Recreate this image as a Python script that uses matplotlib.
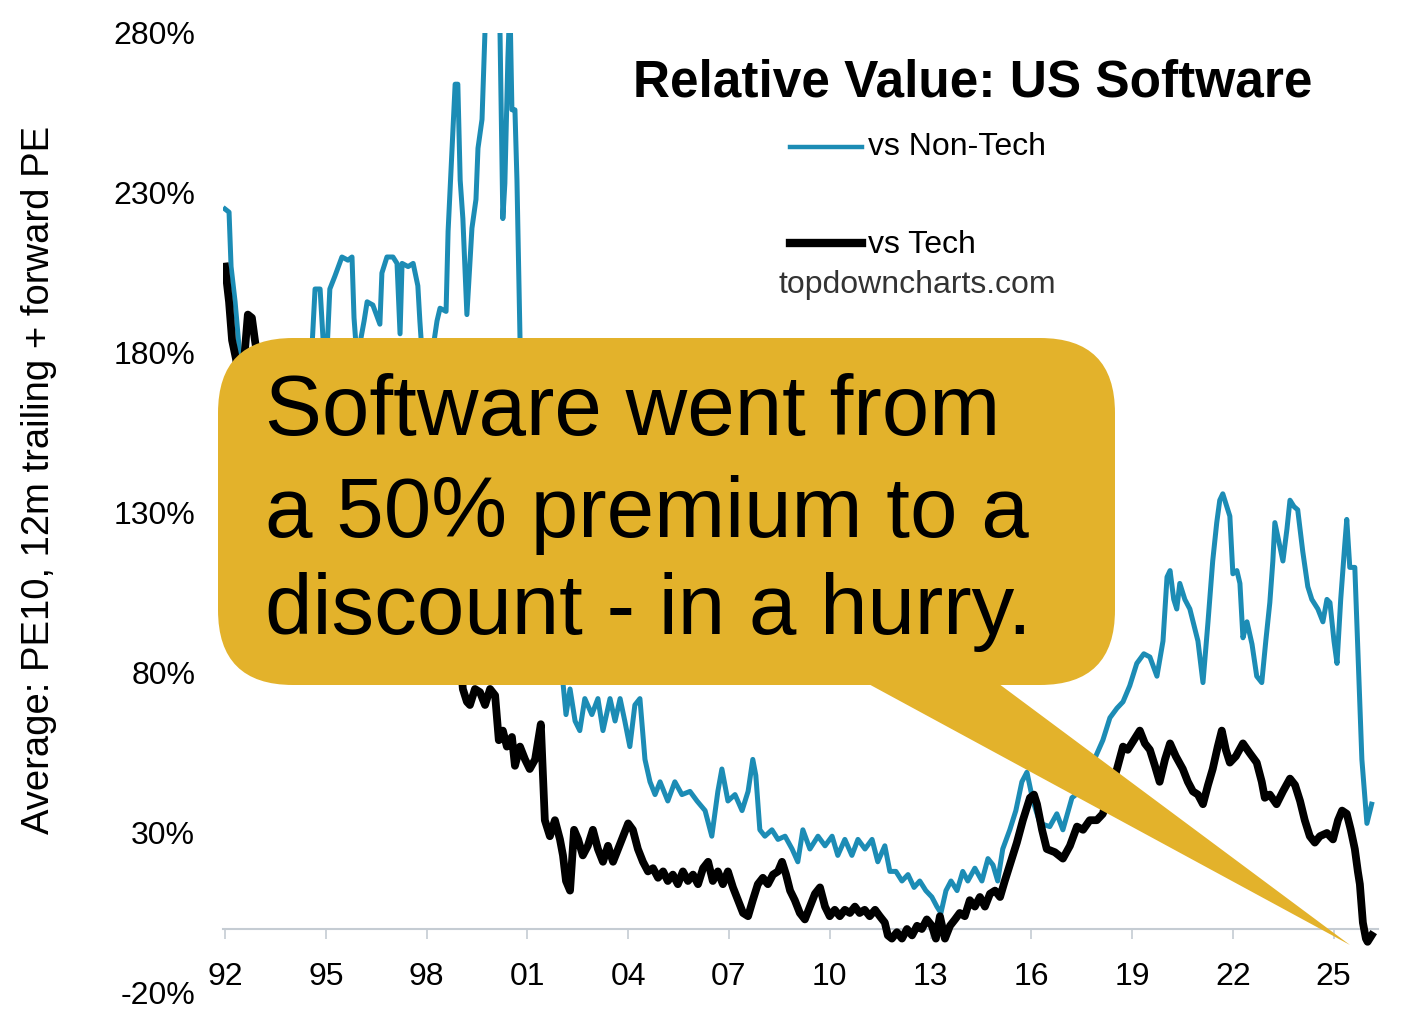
import matplotlib
matplotlib.use('Agg')
import matplotlib.pyplot as plt
from matplotlib.patches import FancyBboxPatch, Polygon
from matplotlib.lines import Line2D

plt.rcParams['font.family'] = ['Liberation Sans', 'DejaVu Sans']

# Relative value of US software, % premium (decimal years)
nontech_years = [
    1992.00, 1992.12, 1992.18, 1992.30, 1992.45, 1992.74, 1993.00, 1993.50, 1994.00, 1994.40,
    1994.59, 1994.68, 1994.83, 1994.92, 1995.00, 1995.12, 1995.27, 1995.48, 1995.66, 1995.78,
    1995.84, 1995.93, 1996.14, 1996.23, 1996.40, 1996.61, 1996.67, 1996.82, 1997.00, 1997.12,
    1997.21, 1997.27, 1997.45, 1997.60, 1997.74, 1997.80, 1997.89, 1998.10, 1998.31, 1998.40,
    1998.58, 1998.64, 1998.85, 1998.93, 1999.00, 1999.08, 1999.20, 1999.35, 1999.47, 1999.53,
    1999.65, 1999.74, 1999.83, 2000.04, 2000.18, 2000.27, 2000.33, 2000.42, 2000.48, 2000.54,
    2000.63, 2000.69, 2000.78, 2000.87, 2001.00, 2001.30, 2001.60, 2001.90, 2002.05, 2002.15,
    2002.27, 2002.42, 2002.56, 2002.71, 2002.92, 2003.10, 2003.25, 2003.46, 2003.61, 2003.76,
    2003.90, 2004.05, 2004.20, 2004.35, 2004.50, 2004.65, 2004.80, 2004.95, 2005.18, 2005.39,
    2005.60, 2005.84, 2006.05, 2006.29, 2006.49, 2006.67, 2006.79, 2006.97, 2007.18, 2007.39,
    2007.57, 2007.71, 2007.80, 2007.92, 2008.07, 2008.28, 2008.46, 2008.67, 2008.88, 2009.05,
    2009.20, 2009.41, 2009.65, 2009.86, 2010.07, 2010.24, 2010.45, 2010.66, 2010.84, 2011.05,
    2011.26, 2011.43, 2011.64, 2011.79, 2011.97, 2012.15, 2012.33, 2012.51, 2012.68, 2012.86,
    2013.04, 2013.19, 2013.31, 2013.46, 2013.61, 2013.79, 2013.96, 2014.11, 2014.32, 2014.53,
    2014.71, 2014.86, 2015.00, 2015.15, 2015.36, 2015.54, 2015.72, 2015.87, 2016.05, 2016.26,
    2016.55, 2016.76, 2016.94, 2017.21, 2017.45, 2017.68, 2017.92, 2018.13, 2018.34, 2018.55,
    2018.73, 2018.93, 2019.14, 2019.35, 2019.53, 2019.74, 2019.92, 2020.04, 2020.13, 2020.24,
    2020.33, 2020.42, 2020.57, 2020.72, 2020.84, 2020.96, 2021.11, 2021.26, 2021.40, 2021.52,
    2021.61, 2021.70, 2021.82, 2021.91, 2022.00, 2022.12, 2022.21, 2022.30, 2022.42, 2022.57,
    2022.71, 2022.86, 2022.98, 2023.10, 2023.19, 2023.25, 2023.37, 2023.49, 2023.61, 2023.70,
    2023.82, 2023.93, 2024.08, 2024.23, 2024.35, 2024.53, 2024.68, 2024.80, 2024.89, 2025.01,
    2025.10, 2025.21, 2025.33, 2025.39, 2025.48, 2025.63, 2025.72, 2025.84, 2025.99, 2026.13,
]
nontech_vals = [
    225, 224, 207, 196, 178, 172, 170, 175, 168, 178,
    182, 200, 200, 184, 172, 200, 204, 210, 209, 210,
    191, 178, 190, 196, 195, 189, 205, 210, 210, 208,
    186, 208, 207, 208, 201, 190, 176, 175, 190, 194,
    193, 218, 264, 264, 234, 222, 192, 219, 228, 244,
    253, 281, 292, 296, 284, 222, 233, 272, 290, 256,
    256, 234, 185, 159, 150, 130, 110, 92, 78, 67,
    75, 65, 62, 72, 67, 72, 62, 72, 65, 72,
    65, 57, 70, 72, 53, 46, 42, 46, 40, 46,
    42, 43, 40, 37, 29, 43, 50, 40, 42, 37,
    43, 53, 48, 31, 29, 31, 28, 29, 25, 21,
    31, 25, 29, 26, 29, 23, 28, 23, 28, 25,
    28, 21, 26, 18, 18, 15, 17, 13, 15, 12,
    10, 7, 5, 12, 15, 12, 18, 15, 19, 15,
    22, 20, 15, 25, 31, 37, 46, 49, 40, 33,
    32, 36, 31, 41, 43, 48, 54, 59, 66, 69,
    71, 76, 83, 86, 85, 79, 90, 110, 112, 103,
    100, 108, 103, 100, 95, 90, 77, 96, 115, 127,
    134, 136, 132, 129, 111, 112, 108, 91, 96, 89,
    79, 77, 90, 102, 115, 127, 121, 115, 125, 134,
    132, 131, 118, 107, 103, 100, 96, 103, 102, 90,
    83, 103, 120, 128, 113, 113, 87, 53, 33, 39,
]

tech_years = [
    1992.00, 1992.12, 1992.21, 1992.33, 1992.45, 1992.57, 1992.68, 1992.80, 1992.89, 1992.98,
    1993.10, 1993.50, 1994.00, 1994.50, 1995.00, 1995.50, 1996.00, 1996.50, 1997.00, 1997.50,
    1998.00, 1998.50, 1999.00, 1999.08, 1999.20, 1999.29, 1999.44, 1999.59, 1999.74, 1999.89,
    2000.04, 2000.15, 2000.27, 2000.39, 2000.54, 2000.63, 2000.78, 2000.93, 2001.07, 2001.23,
    2001.40, 2001.52, 2001.67, 2001.82, 2001.97, 2002.06, 2002.15, 2002.27, 2002.39, 2002.51,
    2002.65, 2002.80, 2002.95, 2003.10, 2003.25, 2003.40, 2003.55, 2003.70, 2003.85, 2004.00,
    2004.14, 2004.29, 2004.44, 2004.59, 2004.74, 2004.89, 2005.04, 2005.18, 2005.33, 2005.48,
    2005.63, 2005.78, 2005.93, 2006.08, 2006.23, 2006.38, 2006.52, 2006.67, 2006.82, 2006.97,
    2007.12, 2007.27, 2007.42, 2007.57, 2007.71, 2007.86, 2008.01, 2008.16, 2008.31, 2008.46,
    2008.58, 2008.70, 2008.82, 2008.96, 2009.11, 2009.26, 2009.41, 2009.56, 2009.71, 2009.86,
    2010.00, 2010.15, 2010.30, 2010.45, 2010.60, 2010.75, 2010.89, 2011.04, 2011.19, 2011.35,
    2011.49, 2011.64, 2011.73, 2011.85, 2012.00, 2012.15, 2012.30, 2012.45, 2012.60, 2012.74,
    2012.89, 2013.04, 2013.16, 2013.28, 2013.43, 2013.58, 2013.73, 2013.87, 2014.02, 2014.17,
    2014.32, 2014.47, 2014.62, 2014.77, 2014.92, 2015.07, 2015.21, 2015.36, 2015.57, 2015.75,
    2015.96, 2016.08, 2016.17, 2016.32, 2016.46, 2016.70, 2016.94, 2017.15, 2017.36, 2017.54,
    2017.74, 2017.95, 2018.13, 2018.28, 2018.43, 2018.55, 2018.73, 2018.87, 2019.05, 2019.23,
    2019.38, 2019.53, 2019.68, 2019.82, 2019.98, 2020.13, 2020.30, 2020.51, 2020.66, 2020.81,
    2020.96, 2021.11, 2021.26, 2021.40, 2021.55, 2021.67, 2021.79, 2021.91, 2022.09, 2022.30,
    2022.50, 2022.71, 2022.86, 2022.95, 2023.10, 2023.30, 2023.49, 2023.70, 2023.85, 2024.00,
    2024.14, 2024.29, 2024.44, 2024.59, 2024.80, 2024.98, 2025.13, 2025.25, 2025.39, 2025.51,
    2025.63, 2025.72, 2025.78, 2025.87, 2025.96, 2026.01, 2026.13,
]
tech_vals = [
    207, 196, 184, 178, 168, 178, 192, 191, 184, 178,
    165, 160, 150, 140, 135, 130, 125, 120, 115, 105,
    100, 95, 85, 75, 71, 70, 75, 74, 70, 75,
    73, 59, 62, 57, 60, 51, 57, 53, 50, 53,
    64, 34, 29, 34, 28, 23, 15, 12, 31, 28,
    23, 26, 31, 25, 21, 26, 21, 25, 29, 33,
    31, 25, 21, 18, 19, 16, 18, 15, 17, 14,
    18, 15, 17, 14, 19, 21, 15, 18, 14, 18,
    13, 9, 5, 4, 9, 14, 16, 14, 17, 18,
    21, 17, 12, 9, 5, 3, 7, 11, 13, 7,
    4, 6, 4, 6, 5, 7, 5, 6, 4, 6,
    4, 2, -2, -3, -1, -3, 0, -2, 1, 0,
    3, 1, -3, 4, -3, 1, 3, 5, 4, 9,
    7, 10, 7, 11, 12, 10, 15, 20, 27, 34,
    41, 42, 39, 31, 25, 24, 22, 26, 32, 31,
    34, 34, 36, 42, 46, 50, 57, 56, 59, 62,
    58, 56, 51, 46, 53, 58, 54, 50, 46, 43,
    42, 39, 45, 50, 57, 62, 56, 52, 54, 58,
    55, 52, 46, 41, 42, 39, 43, 47, 45, 40,
    34, 29, 27, 29, 30, 28, 34, 37, 36, 31,
    25, 18, 14, 2, -3, -4, -2,
]

ytick_vals = [-20, 30, 80, 130, 180, 230, 280]
xtick_years = [1992, 1995, 1998, 2001, 2004, 2007, 2010, 2013, 2016, 2019, 2022, 2025]

title = "Relative Value: US Software"
ylabel = "Average: PE10, 12m trailing + forward PE"
callout_lines = ["Software went from", "a 50% premium to a", "discount - in a hurry."]

blue = '#1c8cb5'
gold = '#e3b22b'

W, H = 1408, 1024
fig = plt.figure(figsize=(W / 100, H / 100), dpi=100)
ax = fig.add_axes([223 / W, 31 / H, (1378 - 223) / W, 960 / H])

ax.plot(nontech_years, nontech_vals, color=blue, lw=3.6, solid_joinstyle='round', zorder=2)
ax.plot(tech_years, tech_vals, color='black', lw=5.6, solid_joinstyle='round', zorder=3)

ax.set_xlim(1991.94, 2026.32)
ax.set_ylim(-20, 280)

for s in ['top', 'right', 'left']:
    ax.spines[s].set_visible(False)
ax.spines['bottom'].set_position(('data', 0))
ax.spines['bottom'].set_color('#c5ccd3')
ax.spines['bottom'].set_linewidth(1.5)

ax.set_yticks(ytick_vals)
ax.set_yticklabels([f'{v}%' for v in ytick_vals])
ax.set_xticks(xtick_years)
ax.set_xticklabels([f'{y % 100:02d}' for y in xtick_years])
ax.tick_params(axis='y', length=0, pad=20, labelsize=23)
ax.tick_params(axis='x', length=7, width=1.2, color='#c5ccd3', pad=17, labelsize=23)

ax.set_ylabel(ylabel, fontsize=27.5)
ax.yaxis.set_label_coords(-0.144, 0.534)

# overlay in pixel coordinates for title, legend and callout
ov = fig.add_axes([0, 0, 1, 1], zorder=5)
ov.set_xlim(0, W)
ov.set_ylim(H, 0)
ov.axis('off')

ov.text(973, 83, title, fontsize=37, fontweight='bold', ha='center', va='center')
ov.add_line(Line2D([790, 862], [147, 147], color=blue, lw=3.2))
ov.text(868, 147, 'vs Non-Tech', fontsize=23, ha='left', va='center')
ov.add_line(Line2D([790, 862], [243, 243], color='black', lw=6))
ov.text(868, 245, 'vs Tech', fontsize=23, ha='left', va='center')
ov.text(917, 285, 'topdowncharts.com', fontsize=23, ha='center', va='center', color='#333333')

box = FancyBboxPatch((218, 338), 897, 347, boxstyle='round,pad=0,rounding_size=75',
                     fc=gold, ec='none')
ov.add_patch(box)
ov.add_patch(Polygon([(852, 675), (987, 675), (1350, 945)], closed=True, fc=gold, ec='none'))
for yy, line in zip([413, 515, 612], callout_lines):
    ov.text(265, yy, line, fontsize=61.5, ha='left', va='center')

fig.savefig('out.png', dpi=100)
